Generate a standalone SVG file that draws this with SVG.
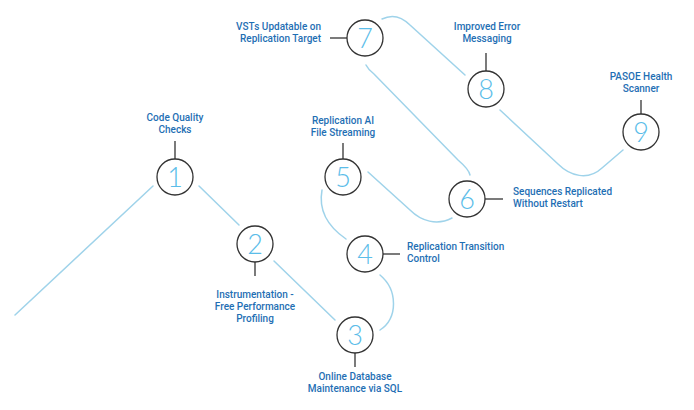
<svg xmlns="http://www.w3.org/2000/svg" width="694" height="410" viewBox="0 0 694 410">
<style>
.bg{fill:#ffffff}
.conn{fill:none;stroke:#9fd3ea;stroke-width:1.5;stroke-linecap:round}
.ring{fill:#ffffff;stroke:#333333;stroke-width:1.3}
.stem{stroke:#333333;stroke-width:1.3}
.num{font-family:Lato,"Open Sans",sans-serif;font-weight:300;font-size:27px;fill:#5bbde9;text-anchor:middle}
.lbl{font-family:Roboto,"Open Sans",sans-serif;font-weight:500;font-size:10px;fill:#1f6fb4}
.c{text-anchor:middle}
.l{text-anchor:start}
.r{text-anchor:end}
</style>
<rect class="bg" x="0" y="0" width="694" height="410"/>
<g id="connectors">
<path class="conn" d="M153,186 L15,315"/>
<path class="conn" d="M199,186 L239,225"/>
<path class="conn" d="M274,261 L335,320"/>
<path class="conn" d="M380,275 C398,290 398,318 380,330"/>
<path class="conn" d="M322,190 C318,212 330,228 346,239"/>
<path class="conn" d="M368,172 L410,210 C421,221 437,226 452,218"/>
<path class="conn" d="M366,65 C368,69 370,71 374,74 L458,160 C465,166 469,170 470,175"/>
<path class="conn" d="M382,19 C392,14 402,17 410,25 L465,75"/>
<path class="conn" d="M500,110 L558,164 C570,176 588,181 602,168 L623,150"/>
</g>
<g id="node1">
<line class="stem" x1="175" y1="141" x2="175" y2="159"/>
<circle class="ring" cx="175" cy="177" r="18"/>
<text class="num" x="175" y="186.5">1</text>
<text class="lbl c" x="175" y="121">Code Quality</text>
<text class="lbl c" x="175" y="133">Checks</text>
</g>
<g id="node2">
<line class="stem" x1="255" y1="262" x2="255" y2="276"/>
<circle class="ring" cx="255" cy="244" r="18"/>
<text class="num" x="255" y="253.5">2</text>
<text class="lbl c" x="255" y="298">Instrumentation -</text>
<text class="lbl c" x="255" y="310">Free Performance</text>
<text class="lbl c" x="255" y="322">Profiling</text>
</g>
<g id="node3">
<line class="stem" x1="355" y1="353" x2="355" y2="367"/>
<circle class="ring" cx="355" cy="335" r="18"/>
<text class="num" x="355" y="344.5">3</text>
<text class="lbl c" x="355" y="380">Online Database</text>
<text class="lbl c" x="355" y="392">Maintenance via SQL</text>
</g>
<g id="node4">
<line class="stem" x1="383" y1="254" x2="400" y2="254"/>
<circle class="ring" cx="365" cy="254" r="18"/>
<text class="num" x="365" y="263.5">4</text>
<text class="lbl l" x="407" y="250">Replication Transition</text>
<text class="lbl l" x="407" y="262">Control</text>
</g>
<g id="node5">
<line class="stem" x1="343" y1="143" x2="343" y2="159"/>
<circle class="ring" cx="343" cy="177" r="18"/>
<text class="num" x="343" y="186.5">5</text>
<text class="lbl c" x="343" y="124">Replication AI</text>
<text class="lbl c" x="343" y="136">File Streaming</text>
</g>
<g id="node6">
<line class="stem" x1="485" y1="199" x2="503" y2="199"/>
<circle class="ring" cx="467" cy="199" r="18"/>
<text class="num" x="467" y="208.5">6</text>
<text class="lbl l" x="513" y="195">Sequences Replicated</text>
<text class="lbl l" x="513" y="207">Without Restart</text>
</g>
<g id="node7">
<line class="stem" x1="330" y1="38" x2="347" y2="38"/>
<circle class="ring" cx="365" cy="38" r="18"/>
<text class="num" x="365" y="47.5">7</text>
<text class="lbl r" x="321" y="30">VSTs Updatable on</text>
<text class="lbl r" x="321" y="42">Replication Target</text>
</g>
<g id="node8">
<line class="stem" x1="486" y1="53" x2="486" y2="71"/>
<circle class="ring" cx="486" cy="89" r="18"/>
<text class="num" x="486" y="98.5">8</text>
<text class="lbl c" x="487" y="30">Improved Error</text>
<text class="lbl c" x="487" y="42">Messaging</text>
</g>
<g id="node9">
<line class="stem" x1="641" y1="100" x2="641" y2="114"/>
<circle class="ring" cx="641" cy="132" r="18"/>
<text class="num" x="641" y="141.5">9</text>
<text class="lbl c" x="641" y="80">PASOE Health</text>
<text class="lbl c" x="641" y="92">Scanner</text>
</g>
</svg>
